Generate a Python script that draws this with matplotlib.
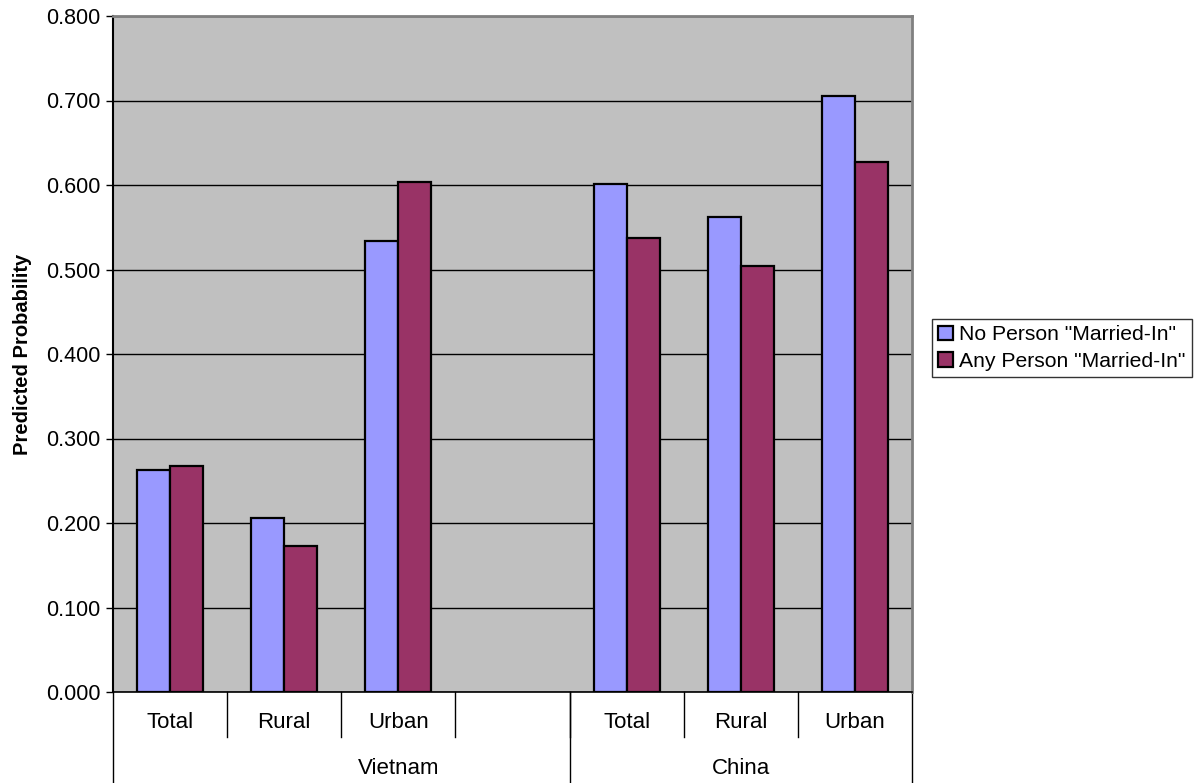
import matplotlib.pyplot as plt
import numpy as np

plt.rcParams['font.family'] = ['Liberation Sans', 'DejaVu Sans']

# data
groups = ['Vietnam', 'China']
subcats = ['Total', 'Rural', 'Urban', '', 'Total', 'Rural', 'Urban']
no_person = [0.263, 0.206, 0.534, np.nan, 0.601, 0.562, 0.705]
any_person = [0.267, 0.173, 0.604, np.nan, 0.537, 0.504, 0.627]
series_names = ['No Person "Married-In"', 'Any Person "Married-In"']

fig = plt.figure(figsize=(11.98, 7.83), dpi=100)
ax = fig.add_axes([113 / 1198, 1 - 692 / 783, (912 - 113) / 1198, (692 - 16) / 783])
ax.set_facecolor('#C0C0C0')

x = np.arange(len(subcats))
w = 0.29
ax.bar(x - w / 2, no_person, w, color='#9999FF', edgecolor='black', linewidth=1.6,
       label=series_names[0], zorder=3)
ax.bar(x + w / 2, any_person, w, color='#993366', edgecolor='black', linewidth=1.6,
       label=series_names[1], zorder=3)

ax.set_xlim(-0.5, len(subcats) - 0.5)
ax.set_ylim(0, 0.8)
ax.set_yticks(np.arange(0, 0.81, 0.1))
ax.set_yticklabels(['%.3f' % v for v in np.arange(0, 0.81, 0.1)], fontsize=15.5)
ax.tick_params(axis='y', length=5, width=1, direction='out', pad=4)
ax.yaxis.grid(True, color='black', linewidth=1)
ax.set_axisbelow(True)
ax.set_xticks([])
ax.set_ylabel('Predicted Probability', fontsize=14.5, fontweight='bold', labelpad=10)

for s in ['top', 'right']:
    ax.spines[s].set_color('#808080')
    ax.spines[s].set_linewidth(2)
ax.spines['left'].set_linewidth(1.5)
ax.spines['bottom'].set_linewidth(1.2)

# two-level category axis
trans = ax.get_xaxis_transform()
row1 = -45 / 676
row2 = -91 / 676
for i, lab in enumerate(subcats):
    ax.text(i, -31 / 676, lab, transform=trans, ha='center', va='center', fontsize=16)
for b in np.arange(0.5, len(subcats) - 1, 1):
    ax.plot([b, b], [0, row1], transform=trans, color='black', lw=1, clip_on=False)
for b in [-0.5, 3.5, 6.5]:
    ax.plot([b, b], [0, row2], transform=trans, color='black', lw=1, clip_on=False)
ax.text(2.0, -76 / 676, groups[0], transform=trans, ha='center', va='center', fontsize=16)
ax.text(5.0, -76 / 676, groups[1], transform=trans, ha='center', va='center', fontsize=16)

leg = fig.legend(loc='upper left', bbox_to_anchor=(932 / 1198, 1 - 319 / 783),
                 fontsize=15.2, frameon=True, fancybox=False, edgecolor='black',
                 handlelength=0.7, handleheight=0.7, handletextpad=0.3,
                 borderpad=0.3, labelspacing=0.35, borderaxespad=0)
leg.get_frame().set_linewidth(1)

fig.savefig('out.png', dpi=100)
